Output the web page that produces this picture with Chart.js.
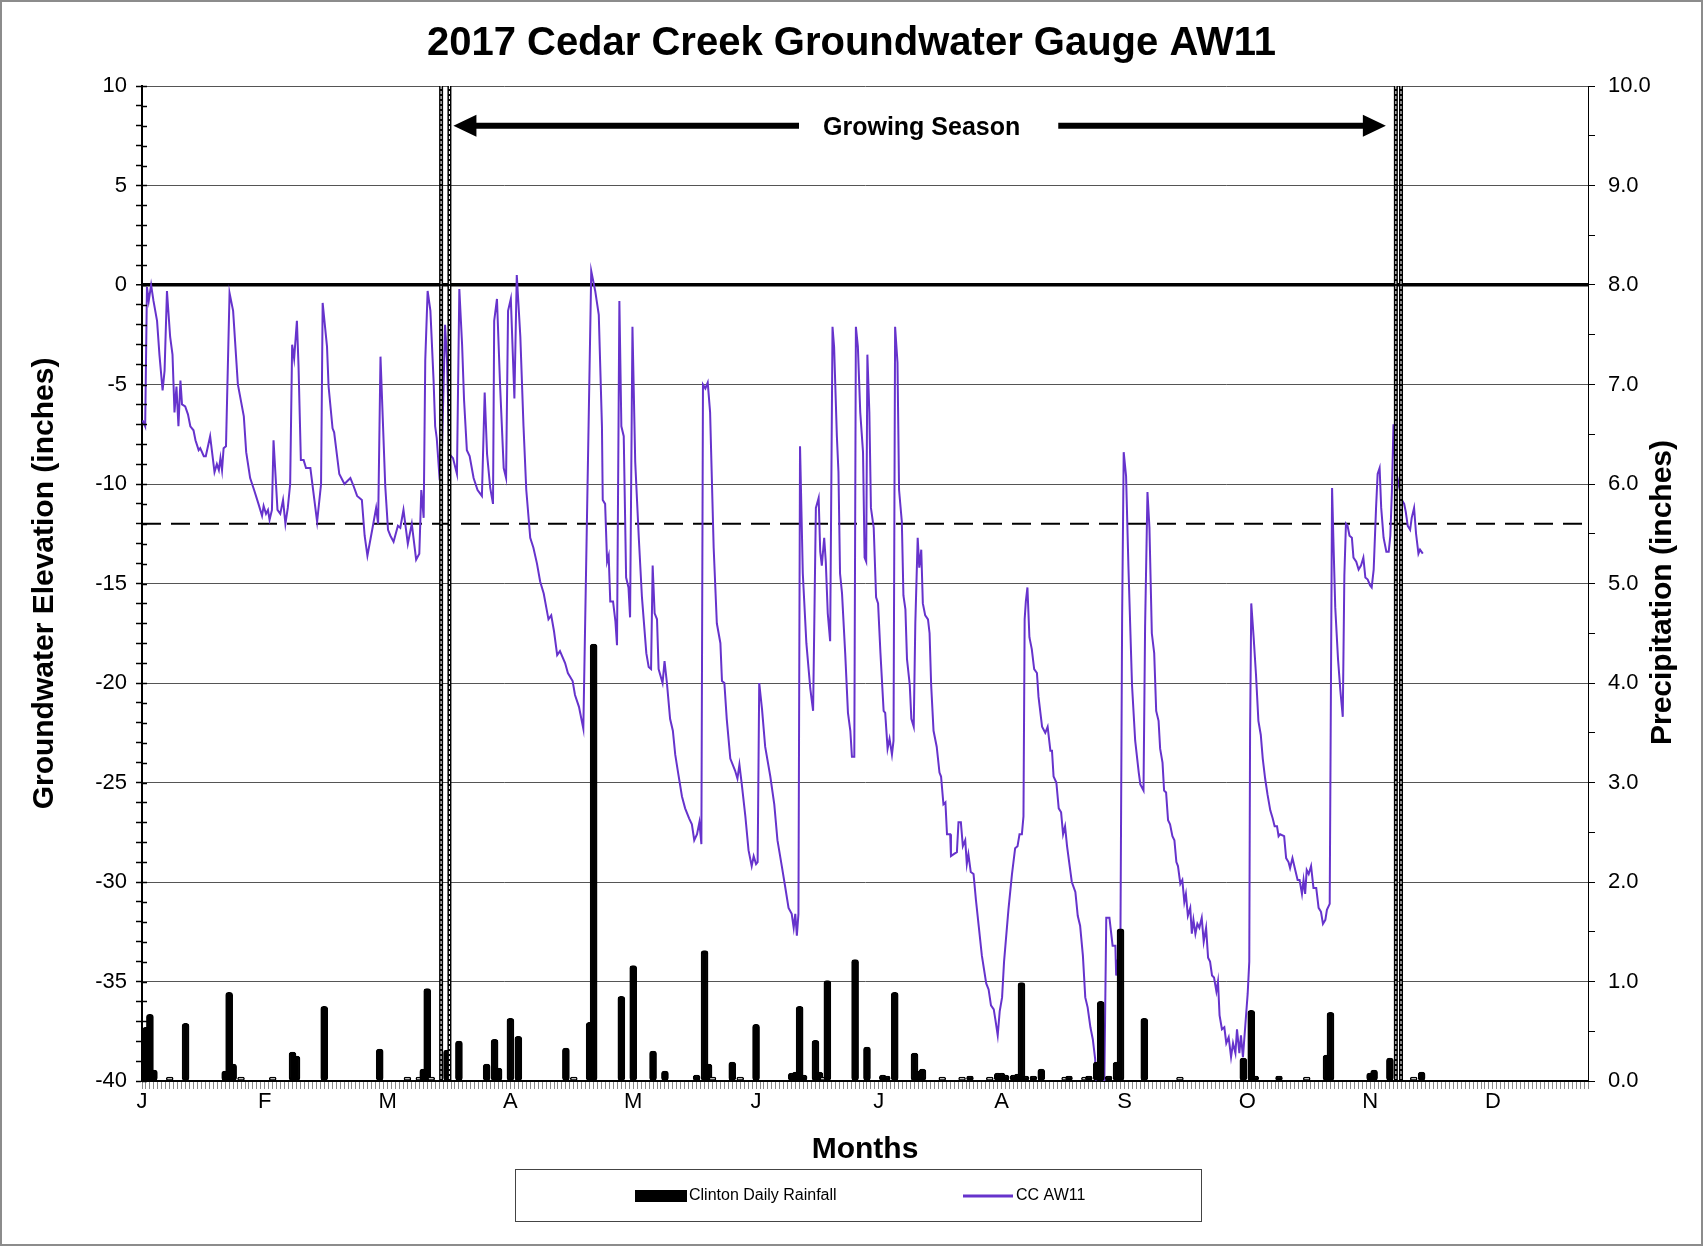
<!DOCTYPE html>
<html>
<head>
<meta charset="utf-8">
<title>2017 Cedar Creek Groundwater Gauge AW11</title>
<script src="https://cdn.jsdelivr.net/npm/chart.js@4.4.1/dist/chart.umd.min.js"></script>
<style>
  html, body { margin: 0; padding: 0; background: #fff; }
  canvas { display: block; }
</style>
</head>
<body>
<canvas id="myChart" width="1703" height="1246"></canvas>
<script>
Chart.defaults.font.family = '"Liberation Sans", Arial, sans-serif';
Chart.defaults.color = "#000";

// x axis is day of year, month letters every 31 days
const monthLabels = ["J", "F", "M", "A", "M", "J", "J", "A", "S", "O", "N", "D"];
const seasonStart = [75.5, 77.6];
const seasonEnd = [316.5, 317.8];
const threshold = -12;

// CC AW11 groundwater level (inches)
const gwDays = [
  0.15, 0.8, 1.25, 1.7, 2.3, 2.9, 3.8, 4.4, 5.2, 5.7, 6.3, 7.1, 7.7, 8.2, 8.7, 9.2, 9.7, 10.1, 10.9, 11.6,
  12.2, 13.0, 13.5, 14.3, 14.7, 15.6, 16.1, 17.2, 18.3, 18.9, 19.4, 19.8, 20.2, 20.6, 21.2, 22.1, 23.0, 24.2, 25.7, 26.3,
  27.3, 28.3, 29.4, 30.3, 30.7, 31.3, 31.8, 32.2, 32.8, 33.2, 34.2, 34.9, 35.6, 36.2, 36.8, 37.4, 37.9, 38.4, 39.1, 39.5,
  40.1, 40.8, 41.4, 42.5, 44.2, 45.2, 45.6, 46.7, 47.1, 48.1, 48.5, 49.8, 51.1, 52.6, 53.4, 54.3, 55.5, 56.2, 56.9, 58.2,
  59.1, 59.6, 60.2, 61.4, 62.1, 62.7, 63.5, 64.6, 65.2, 66.0, 67.1, 68.1, 69.2, 70.0, 70.5, 71.1, 71.5, 72.1, 72.8, 73.6,
  74.0, 74.4, 75.0, 75.7, 76.5, 77.0, 77.6, 78.5, 79.5, 80.1, 80.8, 81.3, 82.0, 82.7, 83.7, 84.7, 85.8, 86.5, 87.1, 87.9,
  88.6, 88.9, 89.6, 90.4, 91.3, 91.9, 92.4, 93.1, 94.0, 94.6, 95.5, 96.3, 97.0, 98.0, 98.8, 99.7, 100.5, 101.4, 102.6, 103.3,
  104.0, 104.8, 105.5, 106.8, 107.5, 108.7, 109.3, 110.3, 111.4, 113.4, 114.4, 115.3, 116.1, 116.3, 116.9, 117.4, 117.8, 118.2, 118.9, 119.5,
  119.9, 120.5, 121.0, 121.6, 122.2,
  122.8, 123.2, 123.8, 124.5, 125.4, 126.2, 127.3, 127.9, 128.5, 128.9, 129.4, 130.0, 130.4, 131.4, 131.9, 132.5, 133.3, 134.0, 134.6, 135.4,
  136.3, 137.1, 138.1, 138.8, 139.4, 140.1, 140.7, 141.2, 141.6, 142.2, 142.8, 143.4, 144.3, 145.1, 146.0, 146.4, 147.0, 147.6, 148.5, 149.7,
  150.3, 150.8, 151.4, 152.3, 153.1, 153.9, 154.4, 155.0, 155.4, 155.8, 156.5, 157.3, 158.6, 159.6, 160.4, 161.5, 162.4, 163.2, 164.0, 164.5,
  164.9, 165.3, 165.7, 166.1, 166.8, 167.7, 168.7, 169.4, 170.1, 170.8, 171.2, 171.6, 172.2, 172.6, 173.1, 173.7, 174.3, 174.7, 175.4, 175.8,
  176.2, 176.7, 177.5, 178.2, 178.8, 179.2, 179.8, 180.2, 180.7, 181.3, 182.0, 182.4, 182.8, 183.1, 183.6, 184.0, 184.7, 185.3, 185.8, 186.4,
  187.2, 187.6, 188.2, 188.7, 189.3, 189.7, 190.1, 190.7, 191.1, 191.8, 192.2, 192.7, 193.1, 193.8, 194.2, 194.8, 195.2, 195.8, 196.2, 196.7,
  197.1, 197.7, 198.4, 198.8, 199.2, 199.8, 200.6, 201.3, 201.7, 202.3, 202.8, 203.2, 204.0, 204.2, 204.9, 205.7, 206.1, 206.7, 207.2, 207.8,
  208.2, 208.6, 209.2, 209.9, 210.5, 211.2, 212.0, 213.1, 213.7, 214.3, 215.0, 215.4, 216.0, 216.5, 217.1, 217.6, 218.7, 219.6, 220.4, 221.0,
  221.5, 222.1, 222.5, 222.8, 223.1, 223.5, 224.0, 224.6, 225.2, 225.9, 226.3, 227.2, 228.0, 228.6, 229.3, 229.7, 230.1, 230.8, 231.4, 232.0,
  232.5, 233.0, 233.5, 234.1, 234.7, 235.6, 236.2, 236.8, 237.5, 238.1, 238.7, 239.4, 240.0, 240.6, 241.2, 242.8, 243.4, 244.2, 245.0, 245.7,
  245.9, 246.3, 246.9, 247.4, 247.8, 248.4, 249.0, 249.9, 250.7, 251.6, 252.0, 252.8, 253.2, 253.8, 254.3, 254.9, 255.5, 256.0, 256.6, 257.0,
  257.6, 258.0, 258.5, 259.0, 259.5, 260.1, 260.6, 261.1, 261.5, 262.1, 262.6, 263.1, 263.5, 264.0, 264.6, 265.0, 265.4, 265.9, 266.4, 266.9,
  267.5, 268.0, 268.6, 269.1, 269.6, 270.1, 270.6, 271.2, 271.6, 272.0, 272.6, 273.2, 273.7, 274.3, 274.9, 275.4, 276.0, 276.4, 277.0, 277.4,
  277.9, 278.5, 279.1, 279.5, 279.7, 280.0, 280.6, 281.2, 281.8, 282.4, 282.9, 283.5, 284.1, 284.8, 285.4, 285.9, 286.5, 286.9, 287.3, 288.3,
  288.8, 289.4, 289.8, 290.4, 291.1, 291.7, 292.2, 292.8, 293.2, 293.6, 294.0, 294.5, 295.1, 295.7, 296.4, 297.0, 297.6, 298.1, 298.7, 299.1,
  299.8, 300.4, 300.8, 301.2, 301.9, 302.5, 303.1, 303.5, 303.9, 304.3, 304.8, 305.4, 305.8, 306.5, 307.1, 307.7, 308.3, 308.8, 309.4, 310.0,
  310.4, 310.9, 311.5, 311.9, 312.4, 312.8, 313.4, 314.1, 314.7, 315.1, 315.5, 315.9, 316.3, 316.8, 317.4, 318.0, 318.6, 319.0, 319.5, 320.1,
  320.5, 321.1, 321.6, 322.2, 322.6, 323.3
];
const gwLevel = [
  -6.8, -7.1, -0.1, -0.8, 0.0, -0.8, -1.8, -3.5, -5.3, -4.3, -0.3, -2.6, -3.5, -6.4, -5.1, -7.1, -4.8, -6.0, -6.1, -6.5,
  -7.1, -7.3, -7.8, -8.3, -8.2, -8.6, -8.6, -7.6, -9.4, -9.0, -9.3, -8.7, -9.3, -8.2, -8.1, -0.4, -1.3, -5.0, -6.6, -8.4,
  -9.7, -10.3, -11.0, -11.6, -11.1, -11.5, -11.3, -11.8, -11.3, -7.8, -11.3, -11.5, -10.8, -12.0, -11.2, -10.0, -3.0, -3.7, -1.8, -4.0,
  -8.8, -8.8, -9.2, -9.2, -11.9, -10.0, -0.9, -3.1, -5.1, -7.2, -7.4, -9.5, -10.0, -9.7, -10.1, -10.6, -10.8, -12.6, -13.6, -12.2,
  -11.2, -12.0, -3.6, -10.1, -12.3, -12.6, -12.9, -12.1, -12.2, -11.3, -13.0, -12.0, -13.8, -13.5, -10.3, -11.7, -3.8, -0.3, -1.3, -4.8,
  -7.1, -7.7, -9.4, -8.5, -2.0, -3.8, -8.5, -8.7, -9.5, -0.2, -3.0, -5.8, -8.3, -8.6, -9.7, -10.3, -10.6, -5.4, -8.5, -10.2,
  -11.0, -1.8, -0.7, -5.1, -9.2, -9.7, -1.3, -0.7, -5.7, 0.5, -2.6, -7.1, -10.3, -12.7, -13.2, -14.0, -14.9, -15.5, -16.8, -16.6,
  -17.4, -18.6, -18.4, -19.0, -19.5, -19.9, -20.6, -21.2, -22.3, 0.7, -0.3, -1.5, -7.1, -10.8, -11.0, -13.9, -13.6, -15.9, -15.9, -16.9,
  -18.1, -0.8, -7.1, -7.6, -14.7,
  -15.2, -16.7, -2.1, -8.9, -12.7, -15.7, -18.5, -19.2, -19.3, -14.1, -16.5, -16.8, -19.3, -20.0, -18.9, -20.0, -21.8, -22.4, -23.6, -24.6,
  -25.7, -26.3, -26.8, -27.1, -27.9, -27.6, -27.0, -28.1, -5.0, -5.2, -4.9, -6.4, -13.2, -17.0, -18.0, -19.9, -20.0, -21.8, -23.8, -24.4,
  -24.8, -24.1, -25.1, -26.7, -28.4, -29.2, -28.7, -29.1, -29.0, -20.0, -21.3, -23.2, -24.7, -26.1, -27.9, -29.2, -30.3, -31.3, -31.6, -32.3,
  -31.6, -32.7, -31.6, -8.1, -14.5, -18.0, -20.3, -21.4, -11.2, -10.7, -13.4, -14.1, -12.7, -13.9, -16.5, -17.9, -2.1, -3.1, -7.6, -9.4,
  -14.5, -15.5, -18.5, -21.5, -22.4, -23.7, -23.7, -2.1, -3.1, -6.4, -8.4, -13.7, -13.9, -3.5, -6.4, -11.2, -12.2, -15.7, -16.0, -18.5,
  -21.4, -21.5, -23.3, -22.8, -23.6, -22.9, -2.1, -3.9, -10.3, -11.9, -15.6, -16.3, -18.8, -20.1, -21.8, -22.2, -17.0, -12.7, -14.2, -13.3,
  -16.0, -16.6, -16.8, -17.5, -20.1, -22.4, -23.2, -24.5, -24.7, -26.1, -26.0, -27.6, -27.6, -28.7, -28.6, -28.5, -27.0, -27.0, -28.2, -27.9,
  -29.1, -28.6, -29.5, -29.6, -30.9, -32.2, -33.7, -35.1, -35.4, -36.2, -36.4, -36.9, -37.7, -36.5, -35.8, -34.0, -31.4, -29.6, -28.3, -28.2,
  -27.6, -27.6, -26.7, -16.8, -15.9, -15.2, -17.7, -18.3, -19.3, -19.5, -20.7, -22.2, -22.5, -22.2, -23.4, -23.4, -24.7, -25.0, -26.3, -26.5,
  -27.6, -27.2, -28.2, -29.1, -30.0, -30.5, -31.7, -32.2, -33.7, -35.8, -36.3, -37.3, -37.9, -38.9, -42.0, -42.0, -31.8, -31.8, -33.2, -33.2,
  -34.7, -33.9, -35.8, -16.8, -8.4, -9.6, -14.2, -20.1, -22.9, -24.5, -25.1, -25.4, -17.2, -10.4, -12.2, -17.5, -18.5, -21.4, -21.9, -23.3,
  -24.0, -25.4, -25.5, -26.9, -27.1, -27.7, -27.9, -29.0, -29.2, -30.1, -29.9, -31.0, -30.6, -31.7, -31.3, -32.6, -31.9, -32.6, -32.1, -32.3,
  -31.8, -33.0, -32.3, -33.8, -34.0, -34.7, -34.8, -35.5, -35.0, -36.7, -37.4, -37.3, -38.1, -37.8, -38.8, -38.1, -38.6, -37.4, -38.6, -37.7,
  -38.8, -37.2, -35.6, -34.0, -22.5, -16.0, -17.7, -19.6, -21.9, -22.6, -23.8, -24.8, -25.6, -26.4, -26.8, -27.2, -27.2, -27.7, -27.6, -27.7,
  -28.8, -29.0, -29.3, -28.8, -29.4, -29.9, -29.9, -30.6, -29.9, -30.6, -29.4, -29.6, -29.2, -30.3, -30.3, -31.3, -31.5, -32.1, -31.9, -31.4,
  -31.1, -10.2, -13.3, -16.2, -18.8, -20.4, -21.7, -14.6, -12.0, -12.1, -12.6, -12.7, -13.7, -13.9, -14.3, -14.1, -13.7, -14.7, -14.8, -15.1,
  -15.2, -14.3, -11.2, -9.5, -9.2, -11.2, -12.7, -13.4, -13.4, -12.6, -10.4, -7.0, -8.8, -9.6, -10.2, -10.8, -11.0, -11.4, -12.1, -12.3,
  -11.7, -11.2, -12.5, -13.5, -13.3, -13.5
];

// Clinton daily rainfall (inches)
const rainDays = [
  1, 2, 3, 7, 11, 21, 22, 23, 25, 33, 38, 39, 46, 60, 67, 70, 71, 72, 73, 77,
  80, 87, 89, 90, 93, 95, 107, 109, 113, 114, 121, 124, 129, 132, 140, 142, 143, 144, 149, 151,
  155, 164, 165, 166, 167, 170, 171, 172, 173, 180, 183, 187, 188, 190, 195, 196, 197, 202, 207, 209,
  214, 216, 217, 218, 220, 221, 222, 223, 225, 227, 233, 234, 238, 239, 241, 242, 244, 246, 247, 253,
  262, 278, 280, 281, 287, 294, 299, 300, 310, 311, 315, 321, 323
];
const rainInches = [
  0.54, 0.67, 0.11, 0.04, 0.58, 0.10, 0.89, 0.17, 0.04, 0.04, 0.29, 0.25, 0.75, 0.32, 0.04, 0.04, 0.12, 0.93, 0.04, 0.31,
  0.40, 0.17, 0.42, 0.13, 0.63, 0.45, 0.33, 0.04, 0.59, 4.39, 0.85, 1.16, 0.30, 0.10, 0.06, 1.31, 0.17, 0.04, 0.19, 0.04,
  0.57, 0.08, 0.09, 0.75, 0.06, 0.41, 0.09, 0.04, 1.01, 1.22, 0.34, 0.06, 0.05, 0.89, 0.28, 0.10, 0.12, 0.04, 0.04, 0.05,
  0.04, 0.08, 0.08, 0.06, 0.06, 0.07, 0.99, 0.05, 0.05, 0.12, 0.04, 0.05, 0.04, 0.05, 0.19, 0.80, 0.05, 0.19, 1.53, 0.63,
  0.04, 0.23, 0.71, 0.05, 0.05, 0.04, 0.26, 0.69, 0.08, 0.11, 0.23, 0.04, 0.09
];

const isWhole = (v) => Math.abs(v - Math.round(v)) < 1e-6;

function vline(ctx, px, top, bottom) {
  ctx.beginPath();
  ctx.moveTo(px, top);
  ctx.lineTo(px, bottom);
  ctx.stroke();
}

// growing season lines + arrow, right axis title, legend box
const decorations = {
  id: "decorations",
  afterDatasetsDraw(chart) {
    const { ctx, chartArea: area, scales } = chart;
    const x = scales.x;
    const y = scales.y;
    ctx.save();

    // minor ticks on the left axis also poke into the plot
    ctx.strokeStyle = "#000";
    ctx.lineWidth = 1.5;
    for (let v = y.min; v <= y.max; v++) {
      const py = Math.round(y.getPixelForValue(v)) + 0.5;
      ctx.beginPath();
      ctx.moveTo(area.left, py);
      ctx.lineTo(area.left + 5, py);
      ctx.stroke();
    }

    seasonStart.concat(seasonEnd).forEach((day) => {
      const px = x.getPixelForValue(day);
      ctx.setLineDash([]);
      ctx.strokeStyle = "#000";
      ctx.lineWidth = 4;
      vline(ctx, px, area.top, area.bottom);
      ctx.setLineDash([3, 2]);
      ctx.strokeStyle = "#fff";
      ctx.lineWidth = 1;
      vline(ctx, px, area.top, area.bottom);
    });
    ctx.setLineDash([]);

    const ay = y.getPixelForValue(8);
    const x0 = x.getPixelForValue(seasonStart[1]) + 4;
    const x1 = x.getPixelForValue(seasonEnd[0]) - 10;
    const mid = (x0 + x1) / 2;
    const label = "Growing Season";
    ctx.font = 'bold 25px "Liberation Sans", Arial, sans-serif';
    const tw = ctx.measureText(label).width;
    ctx.strokeStyle = "#000";
    ctx.fillStyle = "#000";
    ctx.lineWidth = 6;
    ctx.beginPath();
    ctx.moveTo(x0 + 20, ay);
    ctx.lineTo(mid - tw / 2 - 22, ay);
    ctx.moveTo(mid + tw / 2 + 40, ay);
    ctx.lineTo(x1 - 20, ay);
    ctx.stroke();
    ctx.beginPath();
    ctx.moveTo(x0, ay);
    ctx.lineTo(x0 + 23, ay - 11);
    ctx.lineTo(x0 + 23, ay + 11);
    ctx.closePath();
    ctx.moveTo(x1, ay);
    ctx.lineTo(x1 - 23, ay - 11);
    ctx.lineTo(x1 - 23, ay + 11);
    ctx.closePath();
    ctx.fill();
    ctx.textAlign = "center";
    ctx.textBaseline = "middle";
    ctx.fillText(label, mid + 2, ay + 2);
    ctx.restore();
  },
  afterDraw(chart) {
    const { ctx, chartArea: area } = chart;
    ctx.save();
    // right axis title reads bottom-to-top like the left one
    ctx.font = 'bold 30px "Liberation Sans", Arial, sans-serif';
    ctx.fillStyle = "#000";
    ctx.textAlign = "center";
    ctx.textBaseline = "middle";
    ctx.translate(area.right + 75, (area.top + area.bottom) / 2 + 9);
    ctx.rotate(-Math.PI / 2);
    ctx.fillText("Precipitation (inches)", 0, 0);
    ctx.restore();

    // legend
    ctx.save();
    const bw = 686, bh = 52;
    const bx = (area.left + area.right) / 2 - 7 - bw / 2;
    const by = area.bottom + 88;
    ctx.strokeStyle = "#444";
    ctx.lineWidth = 1;
    ctx.strokeRect(Math.round(bx) + 0.5, Math.round(by) + 0.5, bw, bh);
    const cy = by + 27;
    ctx.fillStyle = "#000";
    ctx.fillRect(bx + 120, cy - 6, 52, 12);
    ctx.strokeStyle = "#6633cc";
    ctx.lineWidth = 3;
    ctx.beginPath();
    ctx.moveTo(bx + 448, cy);
    ctx.lineTo(bx + 498, cy);
    ctx.stroke();
    ctx.font = '16px "Liberation Sans", Arial, sans-serif';
    ctx.textAlign = "left";
    ctx.textBaseline = "middle";
    ctx.fillText("Clinton Daily Rainfall", bx + 174, cy);
    ctx.fillText("CC AW11", bx + 501, cy);

    // outer frame
    ctx.strokeStyle = "#8c8c8c";
    ctx.strokeRect(0.5, 0.5, chart.width - 1, chart.height - 1);
    ctx.restore();
  }
};

new Chart("myChart", {
  type: "line",
  data: {
    datasets: [
      {
        type: "bar",
        label: "Clinton Daily Rainfall",
        data: rainDays.map((d, i) => ({ x: d, y: rainInches[i] })),
        xAxisID: "x",
        yAxisID: "y2",
        backgroundColor: (c) => (c.raw && c.raw.y < 0.045 ? "#fff" : "#000"),
        borderColor: "#000",
        borderWidth: 1.5,
        borderRadius: 3,
        borderSkipped: false,
        barThickness: 7,
        order: 0,
      },
      {
        label: "CC AW11",
        data: gwDays.map((d, i) => ({ x: d, y: gwLevel[i] })),
        yAxisID: "y",
        borderColor: "#6633cc",
        borderWidth: 2,
        pointRadius: 0,
        tension: 0,
        fill: false,
        order: 1,
      },
      {
        label: "threshold",
        data: [{ x: 0, y: threshold }, { x: 365, y: threshold }],
        yAxisID: "y",
        borderColor: "#000",
        borderWidth: 2,
        borderDash: [19, 10],
        pointRadius: 0,
        fill: false,
        order: 2,
      },
    ],
  },
  options: {
    responsive: false,
    animation: false,
    layout: { padding: { left: 0, right: 0, top: 0, bottom: 77 } },
    plugins: {
      legend: { display: false },
      tooltip: { enabled: false },
      title: {
        display: true,
        text: "2017 Cedar Creek Groundwater Gauge AW11",
        color: "#000",
        font: { size: 40, weight: "bold" },
        padding: { top: 20, bottom: 18 },
      },
    },
    scales: {
      x: {
        type: "linear",
        min: 0,
        max: 365,
        offset: false,
        border: { color: "#000", width: 2 },
        grid: { drawOnChartArea: false, offset: false, tickLength: 8, color: "#8a8a8a" },
        ticks: {
          stepSize: 1,
          autoSkip: false,
          maxRotation: 0,
          padding: 0,
          font: { size: 22 },
          callback: (v) => (v % 31 === 0 && v / 31 < monthLabels.length ? monthLabels[v / 31] : ""),
        },
        title: {
          display: true,
          text: "Months",
          font: { size: 30, weight: "bold" },
          padding: { top: 4, bottom: 1 },
        },
        afterFit: (s) => { s.height = 88; },
      },
      y: {
        position: "left",
        min: -40,
        max: 10,
        border: { color: "#000", width: 2 },
        grid: {
          color: (c) => (c.tick.value === 0 ? "#000" : c.tick.value % 5 === 0 ? "#555" : "rgba(0,0,0,0)"),
          lineWidth: (c) => (c.tick.value === 0 ? 3.5 : 1),
          tickColor: "#000",
          tickWidth: 1.5,
          tickLength: 6,
        },
        ticks: {
          stepSize: 1,
          autoSkip: false,
          padding: 9,
          font: { size: 22 },
          callback: (v) => (v % 5 === 0 ? v : ""),
        },
        title: {
          display: true,
          text: "Groundwater Elevation (inches)",
          font: { size: 30, weight: "bold" },
          padding: { top: 27 },
        },
        afterFit: (s) => { s.width = 142; },
      },
      y2: {
        position: "right",
        min: 0,
        max: 10,
        border: { color: "#000", width: 1 },
        grid: { drawOnChartArea: false, tickLength: 7, color: "#000" },
        ticks: {
          stepSize: 0.5,
          autoSkip: false,
          padding: 13,
          font: { size: 22 },
          callback: (v) => (isWhole(v) ? v.toFixed(1) : ""),
        },
        afterFit: (s) => { s.width = 115; },
      },
    },
  },
  plugins: [decorations],
});
</script>
</body>
</html>
